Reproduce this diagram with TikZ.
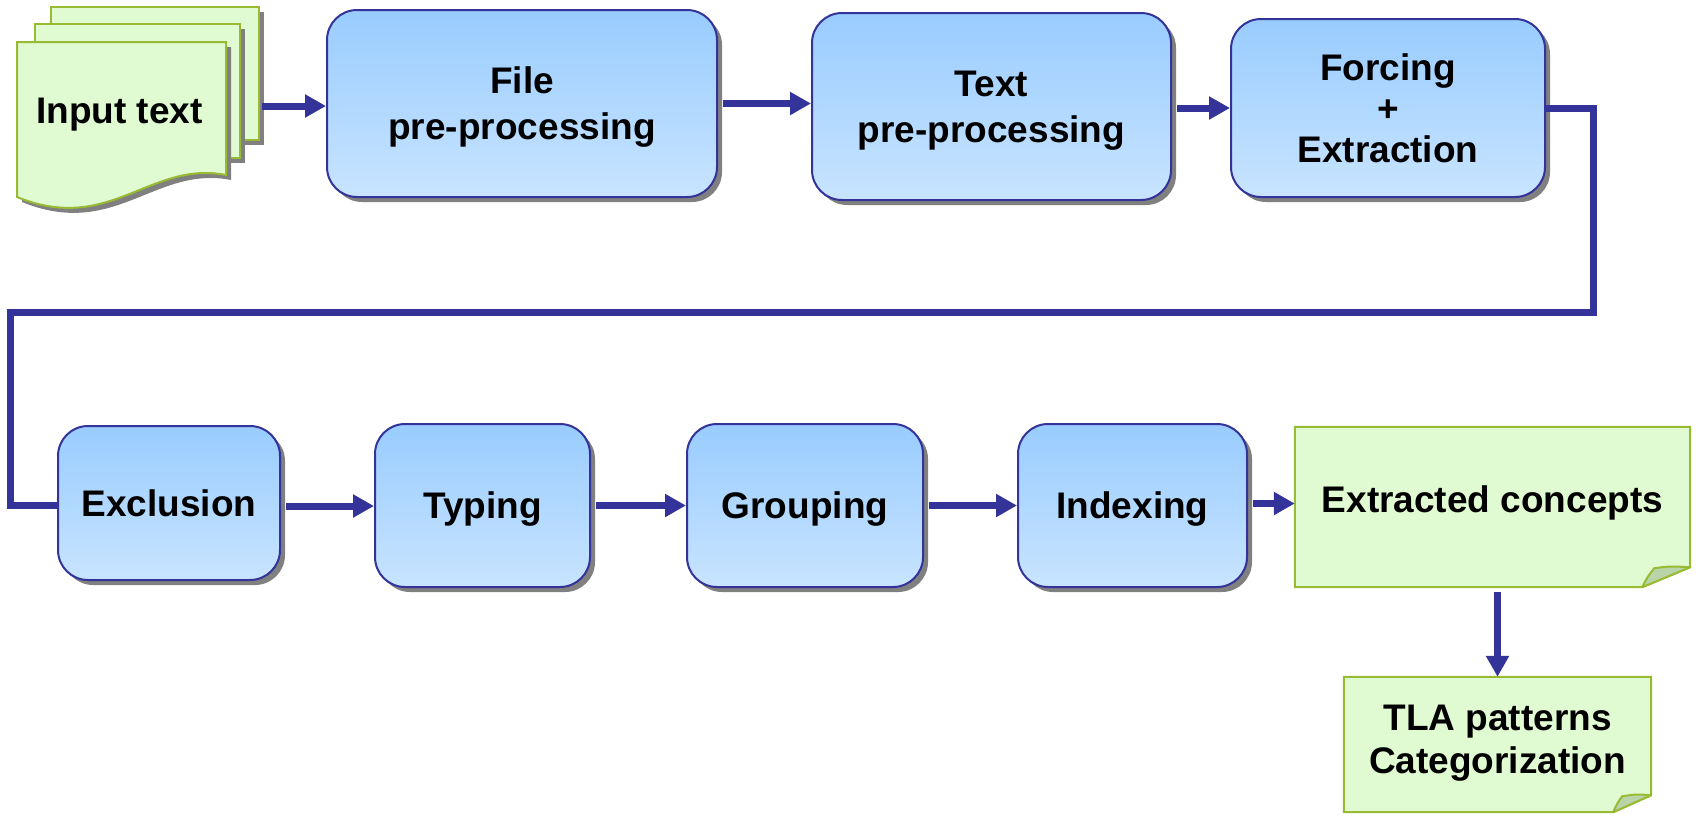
\documentclass[tikz,border=0pt]{standalone}
\usepackage{fontspec}
\setmainfont{Liberation Sans}
\usetikzlibrary{arrows.meta,shadows,backgrounds,calc}
\definecolor{bluetop}{HTML}{99CCFF}
\definecolor{bluebot}{HTML}{C8E4FF}
\definecolor{bborder}{HTML}{333399}
\definecolor{arrowc}{HTML}{333399}
\definecolor{greenfill}{HTML}{E0FAD2}
\definecolor{greenborder}{HTML}{99BB33}
\definecolor{foldfill}{HTML}{B8D4A8}
\definecolor{shadowc}{HTML}{808080}
\begin{document}
\begin{tikzpicture}[x=1pt,y=-1pt,
  lbl/.style={align=center, inner sep=0pt, font=\bfseries\fontsize{37pt}{46pt}\selectfont},
  procbox/.style={lbl, draw=bborder, line width=2pt, rounded corners=30pt,
    top color=bluetop, bottom color=bluebot,
    drop shadow={shadow xshift=5pt,shadow yshift=-5pt,fill=shadowc,opacity=1}},
  oneline/.style={text height=26.5pt, text depth=0pt},
  arr/.style={draw=arrowc, line width=7pt, -{Triangle[length=21pt,width=22pt]}, shorten <=5pt},
  link/.style={draw=arrowc, line width=7pt},
  greenshape/.style={fill=greenfill, draw=greenborder, line width=2pt},
  foldshape/.style={fill=foldfill, draw=greenborder, line width=2pt, line join=round},
  shadowshape/.style={fill=shadowc}
]
\useasboundingbox (0,0) rectangle (1699,815);

% ---------- input documents ----------
\path[shadowshape] (56,12) rectangle (264,145);
\path[greenshape] (51,7) rectangle (259,140);
\path[shadowshape] (40,29) rectangle (245,163);
\path[greenshape] (35,24) rectangle (240,158);
\path[shadowshape] (22,47) -- (231,47) -- (231,180) .. controls (155,165) and (115,240) .. (22,202) -- cycle;
\path[greenshape] (17,42) -- (226,42) -- (226,175) .. controls (150,160) and (110,235) .. (17,197) -- cycle;
\node[lbl, oneline] (intext) at (119.5,110) {Input text};
\coordinate (inout) at (262,106);

% ---------- process boxes ----------
\node[procbox, text depth=-6pt, minimum width=390pt, minimum height=187pt] (file) at (522,103.5) {File\\pre-processing};
\node[procbox, text depth=-5pt, minimum width=359pt, minimum height=187pt] (text) at (991.5,106.5) {Text\\pre-processing};
\node[procbox, minimum width=314pt, minimum height=178pt,
      font=\bfseries\fontsize{37pt}{41pt}\selectfont] (forc) at (1388,108) {Forcing\\+\\Extraction};
\node[procbox, oneline, minimum width=222pt, minimum height=154pt] (excl) at (169,503) {Exclusion};
\node[procbox, oneline, minimum width=215pt, minimum height=163pt] (typ) at (482.5,505.5) {Typing};
\node[procbox, oneline, minimum width=236pt, minimum height=163pt] (grp) at (805,505.5) {Grouping};
\node[procbox, oneline, minimum width=229pt, minimum height=163pt] (idx) at (1132.5,505.5) {Indexing};

% ---------- notes ----------
\node[lbl, text height=26.5pt, text depth=15pt, minimum width=395pt, minimum height=160pt] (ext) at (1492.5,507) {Extracted concepts};
\node[lbl, font=\bfseries\fontsize{37pt}{43pt}\selectfont, text depth=11pt, minimum width=307pt, minimum height=135pt] (tla) at (1497.5,744.5) {TLA patterns\\Categorization};

\begin{scope}[on background layer]
  % extracted concepts
  \path[shadowshape, xshift=5pt, yshift=-5pt]
    (ext.north west) -- (ext.north east) -- ([yshift=20pt]ext.south east)
    -- ([xshift=-48pt]ext.south east) -- (ext.south west) -- cycle;
  \path[greenshape]
    (ext.north west) -- (ext.north east) -- ([yshift=20pt]ext.south east)
    -- ([xshift=-48pt]ext.south east) -- (ext.south west) -- cycle;
  \path[foldshape] ([xshift=-48pt]ext.south east)
    .. controls ([xshift=-43pt,yshift=10pt]ext.south east) .. ([xshift=-36pt,yshift=19pt]ext.south east)
    .. controls ([xshift=-20pt,yshift=21pt]ext.south east) .. ([yshift=20pt]ext.south east) -- cycle;
  % TLA
  \path[shadowshape, xshift=5pt, yshift=-5pt]
    (tla.north west) -- (tla.north east) -- ([yshift=17pt]tla.south east)
    -- ([xshift=-38pt]tla.south east) -- (tla.south west) -- cycle;
  \path[greenshape]
    (tla.north west) -- (tla.north east) -- ([yshift=17pt]tla.south east)
    -- ([xshift=-38pt]tla.south east) -- (tla.south west) -- cycle;
  \path[foldshape] ([xshift=-38pt]tla.south east)
    .. controls ([xshift=-34pt,yshift=9pt]tla.south east) .. ([xshift=-29pt,yshift=16pt]tla.south east)
    .. controls ([xshift=-15pt,yshift=18pt]tla.south east) .. ([yshift=17pt]tla.south east) -- cycle;
\end{scope}

% ---------- connectors ----------
\draw[arr, shorten <=0pt] (inout) -- (inout -| file.west);
\draw[arr] (file.east) -- (file.east -| text.west);
\draw[arr] (text.east |- forc.west) -- (forc.west);
\coordinate (lr) at (1593,312);
\coordinate (ll) at (10,312);
\draw[link] (forc.east) -| (lr) -- (ll) |- ([yshift=-2pt]excl.west);
\draw[arr] ([yshift=-3pt]excl.east) -- ([yshift=-3pt]excl.east -| typ.west);
\draw[arr] (typ.east) -- (typ.east -| grp.west);
\draw[arr] (grp.east) -- (grp.east -| idx.west);
\draw[arr] ([yshift=2pt]idx.east) -- ([yshift=2pt]idx.east -| ext.west);
\draw[arr] (ext.south -| tla.north) -- (tla.north);
\end{tikzpicture}
\end{document}
